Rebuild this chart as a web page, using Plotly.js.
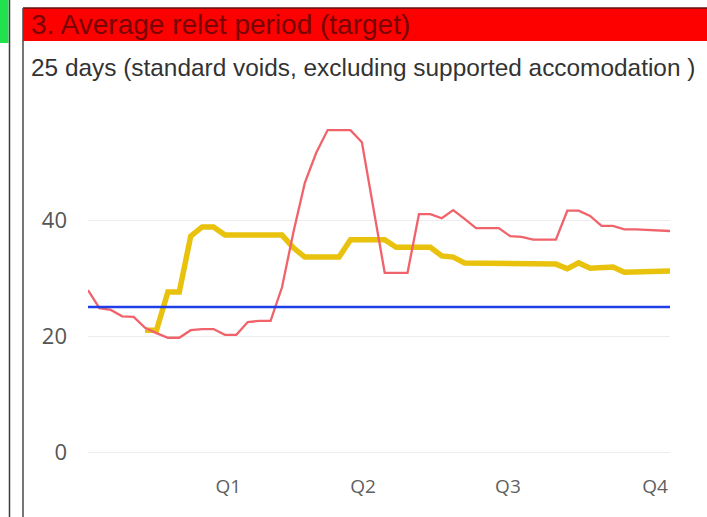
<!DOCTYPE html>
<html>
<head>
<meta charset="utf-8">
<script src="https://cdn.plot.ly/plotly-3.0.1.min.js"></script>
<style>
  html, body { margin: 0; padding: 0; background: #ffffff; }
  #chart { width: 707px; height: 517px; }
</style>
</head>
<body>
<div id="chart"></div>
<script>
// Weekly relet period figures across the year
const weeks = [1, 2, 3, 4, 5, 6, 7, 8, 9, 10, 11, 12, 13, 14, 15, 16, 17, 18, 19, 20,
  21, 22, 23, 24, 25, 26, 27, 28, 29, 30, 31, 32, 33, 34, 35, 36, 37, 38, 39, 40,
  41, 42, 43, 44, 45, 46, 47, 48, 49, 50, 51, 52];

// Weekly average relet period (days)
const weeklyDays = [27.9, 24.8, 24.5, 23.4, 23.3, 21.4, 20.5, 19.7, 19.7, 21.0,
  21.2, 21.2, 20.2, 20.2, 22.4, 22.6, 22.6, 28.4, 37.9, 46.4,
  51.6, 55.5, 55.5, 55.5, 53.4, 42.2, 30.9, 30.9, 30.9, 41.0,
  41.0, 40.3, 41.7, 40.2, 38.6, 38.6, 38.6, 37.2, 37.1, 36.6,
  36.6, 36.6, 41.6, 41.6, 40.7, 39.0, 39.0, 38.4, 38.4, 38.3,
  38.3, 38.1];

// Rolling average relet period (days)
const rollingDays = [null, null, null, null, null, 21.0, 21.0, 27.6, 27.6, 37.2,
  38.8, 38.8, 37.4, 37.4, 37.4, 37.4, 37.4, 37.4, 35.2, 33.6,
  33.6, 33.6, 33.6, 36.6, 36.6, 36.6, 36.6, 35.3, 35.3, 35.3,
  35.3, 33.8, 33.6, 32.6, 32.6, 32.6, 32.6, 32.4, 32.4, 32.4,
  32.4, 32.4, 31.6, 32.6, 31.7, 31.7, 31.9, 31.0, 31.0, 31.0,
  31.0, 31.2];

// Target relet period (days)
const targetDays = [25, 25, 25, 25, 25, 25, 25, 25, 25, 25, 25, 25, 25, 25, 25, 25,
  25, 25, 25, 25, 25, 25, 25, 25, 25, 25, 25, 25, 25, 25, 25, 25, 25, 25, 25, 25,
  25, 25, 25, 25, 25, 25, 25, 25, 25, 25, 25, 25, 25, 25, 25, 25];

// Quarter labels and the week each one sits on
const quarterLabels = ['Q1', 'Q2', 'Q3', 'Q4'];
const quarterWeeks = [13.3, 25.1, 37.8, 50.7];

const yTicks = [0, 20, 40];

const titleText = '3. Average relet period (target)';
const subtitleText = '25 days (standard voids, excluding supported accomodation )';

// Plot area geometry in pixels, used to place the panel decoration
const M = { l: 88, r: 37, t: 104, b: 65 };
const FIG_W = 707, FIG_H = 517;
const PW = FIG_W - M.l - M.r, PH = FIG_H - M.t - M.b;
const px = x => (x - M.l) / PW;
const py = y => (M.t + PH - y) / PH;

const traces = [
  {
    x: weeks, y: rollingDays, type: 'scatter', mode: 'lines',
    line: { color: '#e8c20c', width: 5.5 }, hoverinfo: 'skip', connectgaps: false
  },
  {
    x: weeks, y: weeklyDays, type: 'scatter', mode: 'lines',
    line: { color: '#f0636b', width: 2.3 }, hoverinfo: 'skip'
  },
  {
    x: weeks, y: targetDays, type: 'scatter', mode: 'lines',
    line: { color: '#1f3fe6', width: 2.5 }, hoverinfo: 'skip'
  }
];

const shapes = [
  // green status strip of the neighbouring tile
  { type: 'rect', xref: 'paper', yref: 'paper', x0: px(0), x1: px(8.5), y0: py(43), y1: py(0),
    fillcolor: '#1fe24c', line: { width: 0 }, layer: 'above' },
  { type: 'line', xref: 'paper', yref: 'paper', x0: px(9.5), x1: px(9.5), y0: py(517), y1: py(0),
    line: { color: '#3d3d3d', width: 1.5 } },
  // red header band
  { type: 'rect', xref: 'paper', yref: 'paper', x0: px(23), x1: px(707), y0: py(41), y1: py(8),
    fillcolor: '#fd0000', line: { width: 0 }, layer: 'above' },
  { type: 'line', xref: 'paper', yref: 'paper', x0: px(23), x1: px(707), y0: py(8), y1: py(8),
    line: { color: '#5c1515', width: 1.5 } },
  // left frame of the tile
  { type: 'line', xref: 'paper', yref: 'paper', x0: px(23), x1: px(23), y0: py(517), y1: py(8),
    line: { color: '#4a4a4a', width: 1.5 } }
];

const annotations = [
  { xref: 'paper', yref: 'paper', x: px(29), y: py(25), xanchor: 'left', yanchor: 'middle',
    text: titleText, showarrow: false,
    font: { family: 'Liberation Sans, Arial, sans-serif', size: 28, color: '#780505' } },
  { xref: 'paper', yref: 'paper', x: px(29), y: py(67), xanchor: 'left', yanchor: 'middle',
    text: subtitleText, showarrow: false,
    font: { family: 'Liberation Sans, Arial, sans-serif', size: 24.4, color: '#333333' } }
];

const layout = {
  width: FIG_W, height: FIG_H,
  margin: M,
  paper_bgcolor: '#ffffff', plot_bgcolor: '#ffffff',
  showlegend: false,
  xaxis: {
    range: [1, 52], showgrid: false, zeroline: false, showline: false,
    tickmode: 'array', tickvals: quarterWeeks, ticktext: quarterLabels,
    ticks: '', ticklabelstandoff: 21,
    tickfont: { family: 'Open Sans, sans-serif', size: 19, color: '#5f5f5f' }
  },
  yaxis: {
    range: [0, 60], showgrid: true, gridcolor: '#ececec', gridwidth: 1,
    zeroline: true, zerolinecolor: '#ececec', zerolinewidth: 1, showline: false,
    tickmode: 'array', tickvals: yTicks,
    ticks: '', ticklabelstandoff: 20,
    tickfont: { family: 'Open Sans, sans-serif', size: 22, color: '#555555' }
  },
  shapes: shapes,
  annotations: annotations
};

Plotly.newPlot('chart', traces, layout, { displayModeBar: false, staticPlot: true });
</script>
</body>
</html>
